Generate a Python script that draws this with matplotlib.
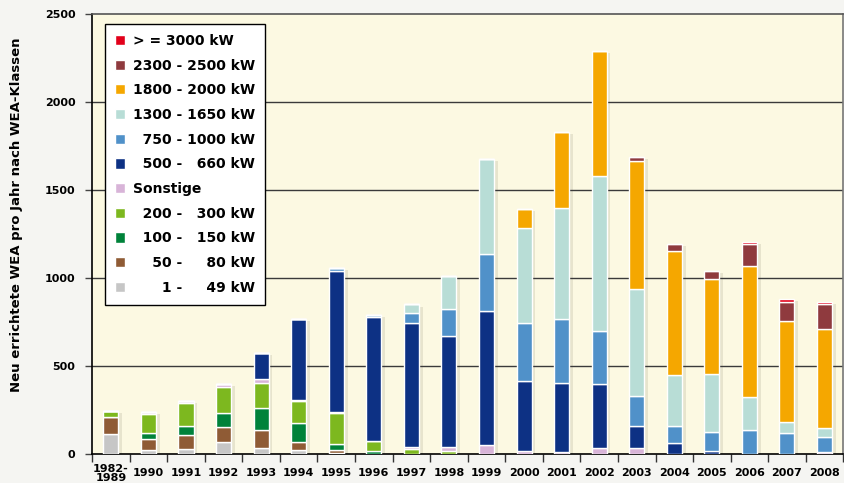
import matplotlib.pyplot as plt
import numpy as np

# Jahre
jahre = ['1982-\n1989', '1990', '1991', '1992', '1993', '1994', '1995', '1996', '1997', '1998',
         '1999', '2000', '2001', '2002', '2003', '2004', '2005', '2006', '2007', '2008']

# WEA pro Klasse (von unten nach oben gestapelt)
kw_1_49 = [112, 23, 30, 66, 32, 23, 3, 0, 0, 0, 0, 0, 0, 0, 0, 0, 0, 0, 0, 0]
kw_50_80 = [96, 62, 76, 89, 104, 47, 22, 0, 0, 0, 0, 0, 0, 0, 0, 0, 0, 0, 0, 0]
kw_100_150 = [0, 36, 53, 76, 127, 108, 34, 16, 0, 0, 0, 0, 0, 0, 0, 0, 0, 0, 0, 0]
kw_200_300 = [38, 104, 129, 151, 139, 123, 176, 57, 27, 19, 0, 0, 0, 0, 0, 0, 0, 0, 0, 0]
sonstige = [0, 12, 15, 18, 26, 5, 5, 0, 15, 19, 51, 19, 11, 36, 36, 0, 0, 0, 0, 10]
kw_500_660 = [0, 0, 0, 0, 148, 461, 801, 706, 700, 632, 761, 396, 391, 362, 125, 61, 15, 0, 0, 0]
kw_750_1000 = [0, 0, 0, 0, 0, 0, 17, 13, 57, 152, 322, 327, 363, 301, 169, 100, 110, 135, 119, 87]
kw_1300_1650 = [0, 0, 0, 0, 0, 0, 0, 0, 51, 191, 542, 544, 633, 881, 608, 290, 328, 191, 63, 49]
kw_1800_2000 = [0, 0, 0, 0, 0, 0, 0, 0, 0, 0, 0, 104, 433, 710, 727, 701, 539, 742, 574, 564]
kw_2300_2500 = [0, 0, 0, 0, 0, 0, 0, 0, 0, 0, 0, 0, 0, 0, 24, 41, 48, 123, 109, 141]
kw_3000 = [0, 0, 0, 0, 0, 0, 0, 0, 0, 0, 0, 0, 0, 0, 0, 0, 0, 15, 17, 14]

fs = '\u2007'  # figure space, so the numbers line up
serien = [
    (kw_1_49, f'{fs}{fs}{fs}1 - {fs}{fs}49 kW', '#c6c6c6'),
    (kw_50_80, f'{fs}{fs}50 - {fs}{fs}80 kW', '#8f5b35'),
    (kw_100_150, f'{fs}100 - {fs}150 kW', '#00823a'),
    (kw_200_300, f'{fs}200 - {fs}300 kW', '#7db81f'),
    (sonstige, 'Sonstige', '#d8b4d8'),
    (kw_500_660, f'{fs}500 - {fs}660 kW', '#0d3184'),
    (kw_750_1000, f'{fs}750 - 1000 kW', '#5091c9'),
    (kw_1300_1650, '1300 - 1650 kW', '#b8ddd6'),
    (kw_1800_2000, '1800 - 2000 kW', '#f5a700'),
    (kw_2300_2500, '2300 - 2500 kW', '#8f3a3e'),
    (kw_3000, '> = 3000 kW', '#e2001a'),
]

fig = plt.figure(figsize=(8.45, 4.83), dpi=100)
fig.patch.set_facecolor('#f5f5f2')
ax = fig.add_axes([0.109, 0.060, 0.889, 0.911])
ax.set_facecolor('#fcf9e2')

x = np.arange(len(jahre))
breite = 0.4

# Schatten hinter den Säulen
gesamt = np.sum([s[0] for s in serien], axis=0)
ax.bar(x + 0.1, gesamt, breite, bottom=-12, color='#8a8570', alpha=0.18,
       linewidth=0, zorder=1)

unten = np.zeros(len(jahre))
for werte, name, farbe in serien:
    werte = np.array(werte, dtype=float)
    ax.bar(x, werte, breite, bottom=unten, color=farbe, edgecolor='white',
           linewidth=1.0, label=name, zorder=3)
    unten += werte

ax.set_xlim(-0.5, len(jahre) - 0.5)
ax.set_ylim(0, 2500)

for yy in [500, 1000, 1500, 2000]:
    ax.axhline(yy, color='#3a3a3a', linewidth=1.0, zorder=2)

ax.set_yticks([0, 500, 1000, 1500, 2000, 2500])
ax.tick_params(axis='y', length=5, width=1, color='#444444', pad=7,
               labelsize=8)
for lab in ax.get_yticklabels():
    lab.set_fontweight('bold')

# Striche zwischen den Jahren, Beschriftung in der Mitte
ax.set_xticks(np.arange(len(jahre) + 1) - 0.5)
ax.set_xticklabels([])
ax.tick_params(axis='x', which='major', length=6, width=1, color='#333333')
ax.set_xticks(x, minor=True)
ax.set_xticklabels(jahre, minor=True, fontsize=8, fontweight='bold',
                   va='center', linespacing=0.95)
ax.tick_params(axis='x', which='minor', length=0, pad=14)

ax.spines['left'].set_color('black')
ax.spines['bottom'].set_color('black')
ax.spines['top'].set_color('#555555')
ax.spines['right'].set_color('#777777')
for sp in ax.spines.values():
    sp.set_linewidth(1.2)

handles, labels = ax.get_legend_handles_labels()
leg = ax.legend(handles[::-1], labels[::-1], loc='upper left',
                bbox_to_anchor=(0.017, 0.977), borderaxespad=0,
                prop={'weight': 'bold', 'size': 10},
                fancybox=False, edgecolor='black', framealpha=1,
                handlelength=0.75, handleheight=0.75, handletextpad=0.55,
                labelspacing=0.77, borderpad=0.7)
leg.get_frame().set_linewidth(1.0)
leg.set_zorder(5)

fig.text(0.02, 0.555, 'Neu errichtete WEA pro Jahr nach WEA-Klassen', rotation=90,
         ha='center', va='center', fontsize=9.5, fontweight='bold')

fig.savefig('out.png', dpi=100, facecolor=fig.get_facecolor())
